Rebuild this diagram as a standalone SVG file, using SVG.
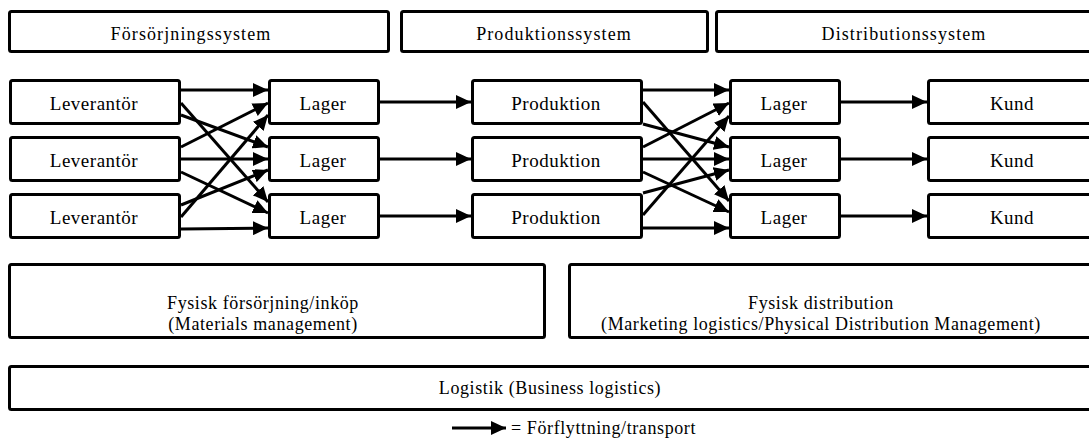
<svg xmlns="http://www.w3.org/2000/svg" width="1089" height="439" viewBox="0 0 1089 439">
  <style>
    .box { fill: #ffffff; stroke: #000000; stroke-width: 3; }
    .head { font-family: "Liberation Serif", "Times New Roman", serif; font-size: 18px; letter-spacing: 1.1px; fill: #000; text-anchor: middle; }
    .lbl { font-family: "Liberation Serif", "Times New Roman", serif; font-size: 19px; letter-spacing: 0.5px; fill: #000; text-anchor: middle; }
    .area { font-family: "Liberation Serif", "Times New Roman", serif; font-size: 18px; letter-spacing: 0.6px; fill: #000; text-anchor: middle; }
    .flow { stroke: #000000; stroke-width: 3; fill: none; marker-end: url(#ah); }
  </style>
  <defs>
    <marker id="ah" markerUnits="userSpaceOnUse" markerWidth="16" markerHeight="14" refX="15" refY="7" orient="auto">
      <path d="M0,0 L15,7 L0,14 z" fill="#000"/>
    </marker>
  </defs>
  <rect width="1089" height="439" fill="#ffffff"/>

  <!-- system headers -->
  <g id="forsorjningssystem">
    <rect class="box" x="9.5" y="11.5" width="379" height="40" rx="2"/>
    <text class="head" x="191" y="40">Försörjningssystem</text>
  </g>
  <g id="produktionssystem">
    <rect class="box" x="401.5" y="11.5" width="306" height="40" rx="2"/>
    <text class="head" x="554" y="40">Produktionssystem</text>
  </g>
  <g id="distributionssystem">
    <rect class="box" x="716.5" y="11.5" width="380" height="40" rx="2"/>
    <text class="head" x="904" y="40">Distributionssystem</text>
  </g>

  <!-- suppliers -->
  <g id="leverantor1">
    <rect class="box" x="10.5" y="80.5" width="169" height="43" rx="2"/>
    <text class="lbl" x="94" y="110">Leverantör</text>
  </g>
  <g id="leverantor2">
    <rect class="box" x="10.5" y="137.5" width="169" height="43" rx="2"/>
    <text class="lbl" x="94" y="167">Leverantör</text>
  </g>
  <g id="leverantor3">
    <rect class="box" x="10.5" y="194.5" width="169" height="43" rx="2"/>
    <text class="lbl" x="94" y="224">Leverantör</text>
  </g>

  <!-- inbound stores -->
  <g id="lager-in1">
    <rect class="box" x="269.5" y="80.5" width="109" height="43" rx="2"/>
    <text class="lbl" x="323" y="110">Lager</text>
  </g>
  <g id="lager-in2">
    <rect class="box" x="269.5" y="137.5" width="109" height="43" rx="2"/>
    <text class="lbl" x="323" y="167">Lager</text>
  </g>
  <g id="lager-in3">
    <rect class="box" x="269.5" y="194.5" width="109" height="43" rx="2"/>
    <text class="lbl" x="323" y="224">Lager</text>
  </g>

  <!-- production -->
  <g id="produktion1">
    <rect class="box" x="472.5" y="80.5" width="169" height="43" rx="2"/>
    <text class="lbl" x="556" y="110">Produktion</text>
  </g>
  <g id="produktion2">
    <rect class="box" x="472.5" y="137.5" width="169" height="43" rx="2"/>
    <text class="lbl" x="556" y="167">Produktion</text>
  </g>
  <g id="produktion3">
    <rect class="box" x="472.5" y="194.5" width="169" height="43" rx="2"/>
    <text class="lbl" x="556" y="224">Produktion</text>
  </g>

  <!-- outbound stores -->
  <g id="lager-out1">
    <rect class="box" x="730.5" y="80.5" width="109" height="43" rx="2"/>
    <text class="lbl" x="784" y="110">Lager</text>
  </g>
  <g id="lager-out2">
    <rect class="box" x="730.5" y="137.5" width="109" height="43" rx="2"/>
    <text class="lbl" x="784" y="167">Lager</text>
  </g>
  <g id="lager-out3">
    <rect class="box" x="730.5" y="194.5" width="109" height="43" rx="2"/>
    <text class="lbl" x="784" y="224">Lager</text>
  </g>

  <!-- customers -->
  <g id="kund1">
    <rect class="box" x="928.5" y="80.5" width="170" height="43" rx="2"/>
    <text class="lbl" x="1012" y="110">Kund</text>
  </g>
  <g id="kund2">
    <rect class="box" x="928.5" y="137.5" width="170" height="43" rx="2"/>
    <text class="lbl" x="1012" y="167">Kund</text>
  </g>
  <g id="kund3">
    <rect class="box" x="928.5" y="194.5" width="170" height="43" rx="2"/>
    <text class="lbl" x="1012" y="224">Kund</text>
  </g>

  <!-- management areas -->
  <g id="fysisk-forsorjning">
    <rect class="box" x="9.5" y="264.5" width="535" height="73" rx="2"/>
    <text class="area" x="263" y="309">Fysisk försörjning/inköp</text>
    <text class="area" x="263" y="330">(Materials management)</text>
  </g>
  <g id="fysisk-distribution">
    <rect class="box" x="569.5" y="264.5" width="530" height="73" rx="2"/>
    <text class="area" x="821" y="309">Fysisk distribution</text>
    <text class="area" x="821" y="330">(Marketing logistics/Physical Distribution Management)</text>
  </g>
  <g id="logistik">
    <rect class="box" x="9.5" y="366.5" width="1090" height="43" rx="2"/>
    <text class="area" x="550" y="394">Logistik (Business logistics)</text>
  </g>

  <!-- legend -->
  <g id="legend">
    <line class="flow" x1="452" y1="428" x2="506" y2="428"/>
    <text class="area" x="511" y="434" style="text-anchor:start">= Förflyttning/transport</text>
  </g>

  <!-- material flows -->
  <g id="connectors">
    <!-- suppliers to inbound stores -->
    <line class="flow" x1="181" y1="90" x2="268" y2="90"/>
    <line class="flow" x1="181" y1="103" x2="268" y2="202"/>
    <line class="flow" x1="181" y1="115" x2="268" y2="147"/>
    <line class="flow" x1="181" y1="147" x2="268" y2="103"/>
    <line class="flow" x1="181" y1="159" x2="268" y2="159"/>
    <line class="flow" x1="181" y1="172" x2="268" y2="213"/>
    <line class="flow" x1="181" y1="205" x2="268" y2="170"/>
    <line class="flow" x1="181" y1="217" x2="268" y2="115"/>
    <line class="flow" x1="181" y1="229" x2="268" y2="228"/>
    <!-- inbound stores to production -->
    <line class="flow" x1="380" y1="102" x2="471" y2="102"/>
    <line class="flow" x1="380" y1="159" x2="471" y2="159"/>
    <line class="flow" x1="380" y1="216" x2="471" y2="216"/>
    <!-- production to outbound stores -->
    <line class="flow" x1="643" y1="90" x2="729" y2="90"/>
    <line class="flow" x1="643" y1="102" x2="729" y2="201"/>
    <line class="flow" x1="643" y1="124" x2="729" y2="147"/>
    <line class="flow" x1="643" y1="147" x2="729" y2="103"/>
    <line class="flow" x1="643" y1="159" x2="729" y2="159"/>
    <line class="flow" x1="643" y1="172" x2="729" y2="212"/>
    <line class="flow" x1="643" y1="193" x2="729" y2="170"/>
    <line class="flow" x1="643" y1="215" x2="729" y2="116"/>
    <line class="flow" x1="643" y1="228" x2="729" y2="228"/>
    <!-- outbound stores to customers -->
    <line class="flow" x1="841" y1="102" x2="927" y2="102"/>
    <line class="flow" x1="841" y1="159" x2="927" y2="159"/>
    <line class="flow" x1="841" y1="216" x2="927" y2="216"/>
  </g>
</svg>
